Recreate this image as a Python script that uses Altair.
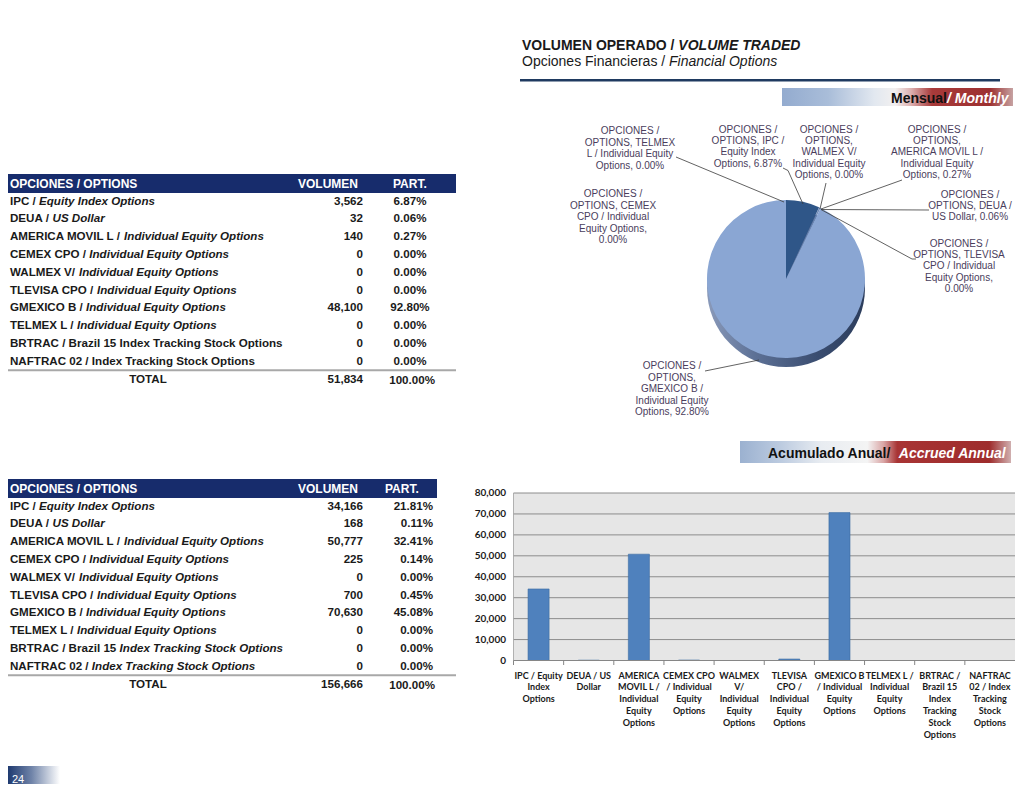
import math
import altair as alt
import pandas as pd

# ---------------- data ----------------
option_keys = ["IPC", "DEUA", "AMERICA MOVIL L", "CEMEX CPO", "WALMEX V",
               "TLEVISA CPO", "GMEXICO B", "TELMEX L", "BRTRAC", "NAFTRAC 02"]
row_prefix = ["IPC / ", "DEUA / ", "AMERICA MOVIL L / ", "CEMEX CPO / ", "WALMEX V/ ",
              "TLEVISA CPO / ", "GMEXICO B / ", "TELMEX L / ", "BRTRAC / Brazil 15 ",
              "NAFTRAC 02 / "]
row_suffix = ["Equity  Index Options", "US Dollar", "Individual Equity Options",
              "Individual Equity Options", "Individual Equity Options",
              "Individual Equity Options", "Individual Equity Options",
              "Individual Equity Options", "Index Tracking Stock Options",
              "Index Tracking Stock Options"]
monthly_suffix_italic = [True, True, True, True, True, True, True, True, False, False]
annual_suffix_italic = [True] * 10
monthly_volume = [3562, 32, 140, 0, 0, 0, 48100, 0, 0, 0]
monthly_share = [6.87, 0.06, 0.27, 0.00, 0.00, 0.00, 92.80, 0.00, 0.00, 0.00]
annual_volume = [34166, 168, 50777, 225, 0, 700, 70630, 0, 0, 0]
annual_share = [21.81, 0.11, 32.41, 0.14, 0.00, 0.45, 45.08, 0.00, 0.00, 0.00]
monthly_total = 51834
annual_total = 156666
bar_axis_ticks = [0, 10000, 20000, 30000, 40000, 50000, 60000, 70000, 80000]
bar_labels = [
    "IPC / Equity\nIndex\nOptions",
    "DEUA / US\nDollar",
    "AMERICA\nMOVIL L /\nIndividual\nEquity\nOptions",
    "CEMEX CPO\n/ Individual\nEquity\nOptions",
    "WALMEX\nV/\nIndividual\nEquity\nOptions",
    "TLEVISA\nCPO /\nIndividual\nEquity\nOptions",
    "GMEXICO B\n/ Individual\nEquity\nOptions",
    "TELMEX L /\nIndividual\nEquity\nOptions",
    "BRTRAC /\nBrazil 15\nIndex\nTracking\nStock\nOptions",
    "NAFTRAC\n02 / Index\nTracking\nStock\nOptions",
]
pie_label_keys = ["TELMEX L", "IPC", "WALMEX V", "AMERICA MOVIL L", "DEUA",
                  "TLEVISA CPO", "CEMEX CPO", "GMEXICO B"]
pie_label_text = [
    "OPCIONES /\nOPTIONS, TELMEX\nL / Individual Equity\nOptions, {}",
    "OPCIONES /\nOPTIONS, IPC /\nEquity Index\nOptions, {}",
    "OPCIONES /\nOPTIONS,\nWALMEX V/\nIndividual Equity\nOptions, {}",
    "OPCIONES /\nOPTIONS,\nAMERICA MOVIL  L /\nIndividual Equity\nOptions, {}",
    "OPCIONES /\nOPTIONS,  DEUA /\nUS Dollar, {}",
    "OPCIONES /\nOPTIONS,  TLEVISA\nCPO / Individual\nEquity Options,\n{}",
    "OPCIONES /\nOPTIONS,  CEMEX\nCPO / Individual\nEquity Options,\n{}",
    "OPCIONES /\nOPTIONS,\nGMEXICO B /\nIndividual Equity\nOptions, {}",
]

# ---------------- layout helpers ----------------
W, H = 1008, 776
ARIAL = "Liberation Sans, Arial, Helvetica, sans-serif"
CALIBRI = "Lato, Carlito, Calibri, sans-serif"
NAVY = "#172c6c"
TEXT = "#1a1a1a"

BOLD_W = {' ': 278, '/': 278, ',': 278, '.': 278, '%': 889}
for d in "0123456789":
    BOLD_W[d] = 556
BOLD_W.update(dict(zip("ABCDEFGHIJKLMNOPQRSTUVWXYZ",
    [722, 722, 722, 722, 667, 611, 778, 722, 278, 556, 722, 611, 833, 722, 778, 667,
     778, 722, 667, 611, 722, 667, 944, 667, 667, 611])))
BOLD_W.update(dict(zip("abcdefghijklmnopqrstuvwxyz",
    [556, 611, 556, 611, 556, 333, 611, 611, 278, 278, 556, 278, 889, 611, 611, 611,
     611, 389, 556, 333, 611, 556, 778, 556, 556, 500])))
REG_W = {' ': 278, '/': 278, ',': 278, '.': 278, '%': 889}
for d in "0123456789":
    REG_W[d] = 556
REG_W.update(dict(zip("ABCDEFGHIJKLMNOPQRSTUVWXYZ",
    [667, 667, 722, 722, 667, 611, 778, 722, 278, 500, 667, 556, 833, 722, 778, 667,
     778, 722, 667, 611, 722, 667, 944, 667, 667, 611])))
REG_W.update(dict(zip("abcdefghijklmnopqrstuvwxyz",
    [556, 556, 500, 556, 556, 278, 556, 556, 222, 222, 500, 222, 833, 556, 556, 556,
     556, 333, 500, 278, 556, 500, 722, 500, 500, 500])))


def tw(s, size, bold=True):
    table = BOLD_W if bold else REG_W
    return sum(table.get(c, 556) for c in s) * size / 1000.0


PX = alt.Scale(domain=[8, 8 + W], range=[0, W], nice=False, zero=False)
PY = alt.Scale(domain=[8, 8 + H], range=[0, H], nice=False, zero=False)
one = pd.DataFrame({"k": [0]})


def vx(x):
    return alt.value(x - 8)


def vy(y):
    return alt.value(y - 8)


def rect(x, x2, y, y2, color):
    return alt.Chart(one).mark_rect(color=color).encode(
        x=vx(x), x2=vx(x2), y=vy(y), y2=vy(y2))


def text(s, x, y, size, color=TEXT, weight="bold", style="normal", align="left",
         font=ARIAL, baseline="alphabetic"):
    return alt.Chart(one).mark_text(
        text=s, fontSize=size, fontWeight=weight, fontStyle=style, align=align,
        font=font, color=color, baseline=baseline).encode(x=vx(x), y=vy(y))


def grad(stops, vertical=False):
    return alt.LinearGradient(
        gradient="linear",
        stops=[alt.GradientStop(color=c, offset=o) for o, c in stops],
        x1=0, y1=0, x2=0 if vertical else 1, y2=1 if vertical else 0)


layers = []

# ---------------- title ----------------
t1a = "VOLUMEN OPERADO / "
layers.append(text(t1a, 522, 50, 14))
layers.append(text("VOLUME TRADED", 522 + tw(t1a, 14), 50, 14, style="italic"))
t2a = "Opciones Financieras / "
layers.append(text(t2a, 522, 66, 14, weight="normal"))
layers.append(text("Financial Options", 522 + tw(t2a, 14, False), 66, 14,
                   weight="normal", style="italic"))
layers.append(rect(520, 1000, 79, 81.5, "#1f3a60"))

# ---------------- banners ----------------
layers.append(alt.Chart(one).mark_rect(color=grad([
    (0, "#93abcf"), (0.2, "#a9bdd9"), (0.4, "#e2e8f0"), (0.49, "#f2f0f0"),
    (0.56, "#dcaeae"), (0.65, "#a83a3a"), (0.9, "#9c3030"), (1, "#c6a2a2")])).encode(
    x=vx(782), x2=vx(1013), y=vy(88), y2=vy(106)))
layers.append(text("Mensual", 891, 102.5, 14, color="#111111"))
layers.append(text("/ Monthly", 891 + tw("Mensual", 14), 102.5, 14,
                   color="white", style="italic"))

layers.append(alt.Chart(one).mark_rect(color=grad([
    (0, "#9bb1d0"), (0.15, "#bccbe0"), (0.3, "#e8ecf1"), (0.47, "#f4f4f4"),
    (0.53, "#d9a5a5"), (0.58, "#a83434"), (0.92, "#9e2c2c"), (1, "#d0b0b0")])).encode(
    x=vx(740), x2=vx(1011), y=vy(441), y2=vy(463)))
layers.append(text("Acumulado Anual/", 768, 458, 14, color="#111111"))
layers.append(text("Accrued Annual", 768 + tw("Acumulado Anual/ ", 14) + 4, 458, 14,
                   color="white", style="italic"))


# ---------------- tables ----------------
def table(top, volume, share, italic, total, header_right, part_hdr_x, part_x,
          part_align):
    row0 = top + 27.7
    step = 17.78
    ys = alt.Scale(domain=[0, 9], range=[row0 - 8, row0 + 9 * step - 8],
                   nice=False, zero=False)
    fs = 11.6
    df = pd.DataFrame({
        "i": list(range(10)),
        "prefix": row_prefix,
        "suffix": row_suffix,
        "italic": italic,
        "sx": [10 + tw(p, fs) for p in row_prefix],
        "vol": [f"{v:,}" for v in volume],
        "pct": [f"{s:.2f}%" for s in share],
    })
    out = []
    out.append(rect(8, header_right, top, top + 19, NAVY))
    out.append(text("OPCIONES / OPTIONS", 10, top + 10, 12, color="white",
                    baseline="middle"))
    out.append(text("VOLUMEN", 298, top + 10, 12, color="white", baseline="middle"))
    out.append(text("PART.", part_hdr_x, top + 10, 12, color="white",
                    baseline="middle"))
    y_enc = alt.Y("i:Q", scale=ys, axis=None)
    out.append(alt.Chart(df).mark_text(
        font=ARIAL, fontSize=fs, fontWeight="bold", color=TEXT, align="left",
        baseline="middle").encode(x=vx(10), y=y_enc, text="prefix:N"))
    for flag, style in [(True, "italic"), (False, "normal")]:
        sub = df[df["italic"] == flag]
        if len(sub):
            out.append(alt.Chart(sub).mark_text(
                font=ARIAL, fontSize=fs, fontWeight="bold", fontStyle=style,
                color=TEXT, align="left", baseline="middle").encode(
                x=alt.X("sx:Q", scale=PX, axis=None), y=y_enc, text="suffix:N"))
    out.append(alt.Chart(df).mark_text(
        font=ARIAL, fontSize=fs, fontWeight="bold", color=TEXT, align="right",
        baseline="middle").encode(x=vx(363), y=y_enc, text="vol:N"))
    out.append(alt.Chart(df).mark_text(
        font=ARIAL, fontSize=fs, fontWeight="bold", color=TEXT, align=part_align,
        baseline="middle").encode(x=vx(part_x), y=y_enc, text="pct:N"))
    sep = row0 + 9 * step + 8.5
    out.append(rect(8, 456, sep - 1, sep + 1, "#a8a8a8"))
    tot_y = sep + 9.5
    out.append(text("TOTAL", 148, tot_y, fs, align="center", baseline="middle"))
    out.append(text(f"{total:,}", 363, tot_y, fs, align="right", baseline="middle"))
    out.append(text("100.00%", 435, tot_y + 1, fs, align="right", baseline="middle"))
    return out


layers += table(174, monthly_volume, monthly_share, monthly_suffix_italic,
                monthly_total, 456, 393, 410, "center")
layers += table(479, annual_volume, annual_share, annual_suffix_italic,
                annual_total, 437, 385, 433, "right")

# ---------------- pie ----------------
PCX, PCY, PR, DEPTH = 786, 279, 79, 9
layers.append(alt.Chart(one).mark_arc(
    radius=PR, theta=0, theta2=2 * math.pi,
    color=grad([(0, "#8a9aba"), (0.3, "#5d7196"), (0.7, "#3a4d70"),
                (1, "#2c3d5c")])).encode(x=vx(PCX), y=vy(PCY + DEPTH)))
pie_df = pd.DataFrame({"key": option_keys, "v": monthly_volume,
                       "o": list(range(len(option_keys)))})
pie_colors = ["#2f5688", "#4f6f9f", "#6a86b5", "#7790c0", "#8aa6d3", "#7d96c4",
              "#8aa6d3", "#6a86b5", "#4f6f9f", "#2f5688"]
layers.append(alt.Chart(pie_df).mark_arc(radius=PR).encode(
    theta=alt.Theta("v:Q", stack=True),
    order=alt.Order("o:Q"),
    color=alt.Color("key:N", scale=alt.Scale(domain=option_keys, range=pie_colors),
                    legend=None),
    x=vx(PCX), y=vy(PCY)))

# leader lines (annotation layout, page coordinates)
leaders = pd.DataFrame({
    "x": [676, 783, 788, 826, 902, 929, 912, 912, 705],
    "y": [157, 168, 170.5, 183, 180, 210, 259, 259, 371],
    "x2": [784, 788, 803, 820, 821, 821, 916, 821, 759],
    "y2": [202, 170.5, 204, 209, 209, 209.5, 259, 209.5, 360],
})
layers.append(alt.Chart(leaders).mark_rule(color="#3a3a3a", strokeWidth=0.8).encode(
    x=alt.X("x:Q", scale=PX, axis=None), x2="x2:Q",
    y=alt.Y("y:Q", scale=PY, axis=None), y2="y2:Q"))

share_of = dict(zip(option_keys, monthly_share))
pie_lab = pd.DataFrame({
    "t": [t.format(f"{share_of[k]:.2f}%") for k, t in zip(pie_label_keys, pie_label_text)],
    "x": [630, 748, 829, 937, 970, 959, 613, 672],
    "y": [131, 129.3, 129.3, 129.3, 194.3, 243.3, 194, 366],
})
pie_lab["y"] = pie_lab["y"] - 4.6
layers.append(alt.Chart(pie_lab).mark_text(
    font=ARIAL, fontSize=10, color="#4a3d5c", align="center", baseline="top",
    lineBreak="\n", lineHeight=11.4).encode(
    x=alt.X("x:Q", scale=PX, axis=None), y=alt.Y("y:Q", scale=PY, axis=None),
    text="t:N"))

# ---------------- bar chart ----------------
BX0, BX1 = 513.5, 1015
BY = alt.Scale(domain=[0, 80000], range=[660.5 - 8, 493 - 8], nice=False, zero=False)
BAND = alt.Scale(domain=option_keys, range=[BX0 - 8, BX1 - 8],
                 paddingInner=0.58, paddingOuter=0.29)
STEP = alt.Scale(domain=option_keys, range=[BX0 - 8, BX1 - 8],
                 paddingInner=0, paddingOuter=0)
bar_df = pd.DataFrame({"key": option_keys, "v": annual_volume, "lab": bar_labels})
tick_df = pd.DataFrame({"t": bar_axis_ticks})

layers.append(alt.Chart(one).mark_rect(color="#e6e6e6").encode(
    x=vx(BX0), x2=vx(BX1), y=vy(493), y2=vy(660.5)))
layers.append(alt.Chart(tick_df).mark_rule(color="#8c8c8c", strokeWidth=1).encode(
    y=alt.Y("t:Q", scale=BY, axis=None), x=vx(BX0), x2=vx(BX1)))
layers.append(alt.Chart(tick_df).mark_text(
    font=CALIBRI, fontSize=10, fontWeight="bold", color=TEXT, align="right",
    baseline="middle").encode(
    y=alt.Y("t:Q", scale=BY, axis=None), x=vx(506),
    text=alt.Text("t:Q", format=",")))
layers.append(alt.Chart(bar_df).mark_bar(color="#4f81bd", stroke="#3d6ca3",
                                         strokeWidth=0.6).encode(
    x=alt.X("key:N", scale=BAND, axis=None),
    y=alt.Y("v:Q", scale=BY, axis=None)))
layers.append(alt.Chart(one).mark_rule(color="#868686", strokeWidth=1).encode(
    x=vx(BX0), x2=vx(BX1), y=vy(660.5)))
layers.append(alt.Chart(one).mark_rule(color="#a0a0a0", strokeWidth=0.8).encode(
    x=vx(BX0), y=vy(493), y2=vy(660.5)))
layers.append(alt.Chart(bar_df).mark_rule(color="#868686", strokeWidth=1).encode(
    x=alt.X("key:N", scale=STEP, axis=None, bandPosition=0),
    y=vy(660.5), y2=vy(665)))
layers.append(alt.Chart(bar_df).mark_text(
    font=CALIBRI, fontSize=9, fontWeight="bold", color=TEXT, align="center",
    baseline="top", lineBreak="\n", lineHeight=11.8).encode(
    x=alt.X("key:N", scale=STEP, axis=None, bandPosition=0.5),
    y=vy(671.5), text="lab:N"))

# ---------------- page number ----------------
layers.append(alt.Chart(one).mark_rect(color=grad([
    (0, "#1f3a70"), (0.45, "#6f83a8"), (1, "#ffffff")])).encode(
    x=vx(8), x2=vx(60), y=vy(766), y2=vy(792)))
layers.append(text("24", 12, 783, 11, color="white", weight="normal"))

chart = alt.layer(*layers).resolve_scale(
    x="independent", y="independent", color="independent", theta="independent"
).properties(
    width=W, height=H, padding=0, background="white",
    autosize=alt.AutoSizeParams(type="none"),
).configure_view(stroke=None)

chart.save("out.html", embed_options={"renderer": "svg", "actions": False})
